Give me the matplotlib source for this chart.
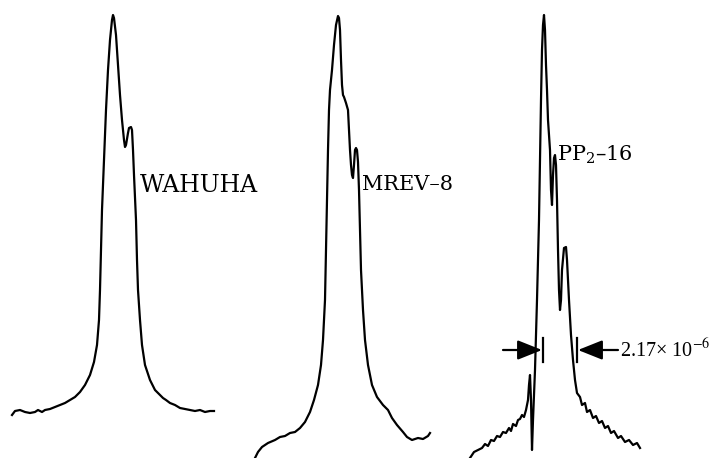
import matplotlib
matplotlib.use("Agg")
import matplotlib.pyplot as plt

plt.rcParams["font.family"] = ["DejaVu Serif"]
plt.rcParams["mathtext.fontset"] = "dejavuserif"

# traced spectra: horizontal position, vertical position (page units, 0 = top)
wahuha_x = [12, 15, 20, 25, 30, 35, 38, 42, 45, 50, 55, 60, 65, 70, 75, 80, 85, 90,
            94, 97, 99, 100, 101, 102, 104, 106, 108, 110, 112, 113, 114, 116, 118,
            120, 122, 124, 125, 126, 128, 129, 131, 132, 133, 134, 136, 137, 138, 140,
            142, 145, 150, 155, 160, 163, 166, 170, 175, 180, 185, 190, 195, 200, 205,
            210, 214]
wahuha_y = [415, 411, 410, 412, 413, 412, 410, 412, 410, 409, 407, 405, 403, 400, 397,
            392, 385, 375, 362, 345, 320, 290, 250, 210, 160, 110, 70, 40, 20, 15, 18,
            35, 65, 95, 120, 140, 147, 145, 133, 128, 127, 130, 150, 175, 220, 260, 290,
            320, 345, 365, 380, 390, 395, 398, 400, 403, 405, 408, 409, 410, 411, 410,
            412, 411, 411]

mrev_x = [255, 258, 262, 268, 275, 280, 285, 290, 295, 300, 305, 310, 314, 318, 321,
          323, 325, 326, 327, 328, 329, 330, 332, 334, 336, 338, 339, 340, 341, 342,
          343, 344, 346, 348, 349, 350, 351, 352, 353, 354, 355, 356, 357, 358, 359,
          360, 361, 363, 365, 368, 372, 377, 383, 388, 392, 397, 403, 407, 412, 418,
          423, 428, 430]
mrev_y = [458, 452, 447, 443, 440, 437, 436, 433, 432, 428, 422, 412, 400, 385, 365,
          340, 300, 250, 200, 150, 110, 90, 70, 45, 25, 16, 18, 30, 60, 85, 95, 97,
          103, 110, 130, 150, 165, 175, 178, 165, 150, 148, 150, 162, 190, 230, 270,
          310, 340, 365, 385, 397, 405, 410, 418, 425, 432, 437, 440, 438, 439, 436,
          433]

pp_x = [470, 474, 478, 482, 485, 488, 491, 494, 497, 500, 503, 506, 509, 511, 513,
        516, 518, 520, 522, 524, 526, 528, 529, 530, 531, 532, 533, 535, 537, 539,
        540, 541, 542, 543, 544, 545, 546, 547, 548, 549, 550, 551, 552, 553, 554,
        555, 556, 557, 558, 559, 560, 561, 562, 564, 566, 567, 569, 571, 573, 575,
        577, 580, 582, 585, 587, 590, 593, 596, 599, 602, 605, 608, 611, 614, 618,
        621, 625, 629, 633, 637, 640]
pp_y = [458, 452, 450, 448, 444, 446, 440, 441, 436, 437, 432, 433, 428, 431, 424,
        426, 420, 419, 415, 417, 410, 400, 385, 375, 400, 450, 420, 370, 300, 220,
        160, 100, 50, 25, 15, 30, 65, 90, 120, 135, 150, 190, 205, 175, 158, 155, 165,
        200, 250, 290, 310, 300, 270, 248, 247, 260, 300, 335, 360, 380, 393, 397, 405,
        403, 412, 410, 418, 416, 423, 421, 428, 426, 433, 431, 438, 436, 442, 440, 445,
        443, 448]

labels = ["WAHUHA", "MREV\u20138", "PP$_2$\u201316"]
label_pos = [(140, 185), (362, 185), (557, 155)]
label_size = [17, 15, 15]

# linewidth marker for the PP2-16 line
width_left = 543
width_right = 577
width_level = 350
width_text = "2.17\u00d7 10$^{-6}$"

fig = plt.figure(figsize=(7.11, 4.58), dpi=100)
ax = fig.add_axes([0, 0, 1, 1])
ax.set_xlim(0, 711)
ax.set_ylim(458, 0)
ax.axis("off")

for xs, ys in [(wahuha_x, wahuha_y), (mrev_x, mrev_y), (pp_x, pp_y)]:
    ax.plot(xs, ys, color="black", lw=1.6, solid_joinstyle="round")

for text, (tx, ty), fs in zip(labels, label_pos, label_size):
    ax.text(tx, ty, text, fontsize=fs, ha="left", va="center")

# vertical ticks and arrows
for xt in (width_left, width_right):
    ax.plot([xt, xt], [width_level - 12, width_level + 12], color="black", lw=1.6)
arrow = dict(arrowstyle="-|>,head_length=1.0,head_width=0.4", color="black",
             lw=1.6, mutation_scale=15, shrinkA=0, shrinkB=0)
ax.annotate("", xy=(width_left - 1, width_level), xytext=(503, width_level),
            arrowprops=arrow)
ax.annotate("", xy=(width_right + 1, width_level), xytext=(618, width_level),
            arrowprops=arrow)
ax.text(620, width_level, width_text, fontsize=14.5, ha="left", va="center",
        family="Liberation Serif", math_fontfamily="stix")

fig.savefig("out.png", dpi=100)
